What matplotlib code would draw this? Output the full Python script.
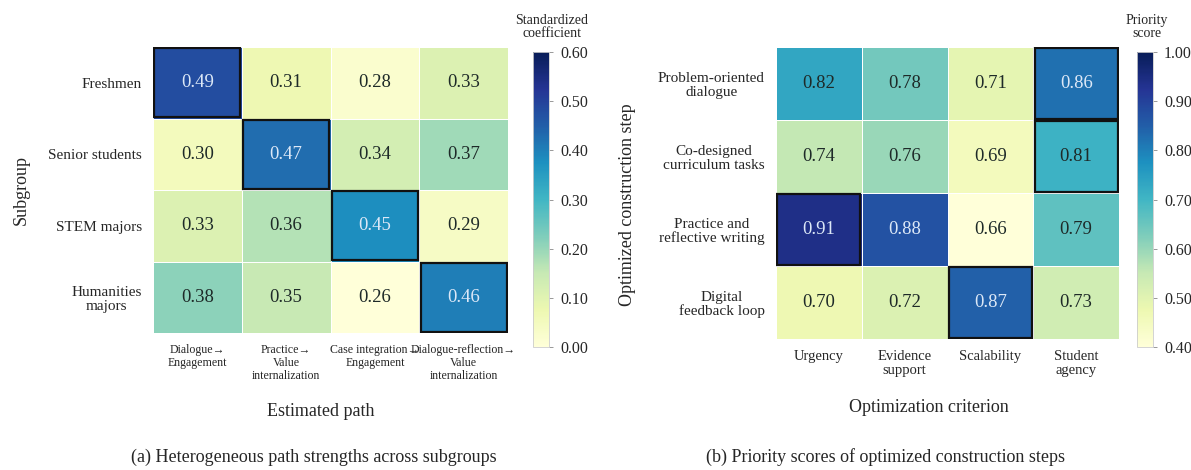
import numpy as np
import matplotlib
matplotlib.use("Agg")
import matplotlib.pyplot as plt
from matplotlib.colors import Normalize, PowerNorm
from matplotlib.cm import ScalarMappable
from matplotlib.patches import Rectangle

plt.rcParams["font.family"] = ["Liberation Serif", "DejaVu Serif"]

# ---- Panel (a): path strengths by subgroup ----
subgroups = ["Freshmen", "Senior students", "STEM majors", "Humanities\nmajors"]
paths = ["Dialogue\u2192\nEngagement", "Practice\u2192\nValue\ninternalization",
         "Case integration\u2192\nEngagement", "Dialogue-reflection\u2192\nValue\ninternalization"]
coef = np.array([
    [0.49, 0.31, 0.28, 0.33],
    [0.30, 0.47, 0.34, 0.37],
    [0.33, 0.36, 0.45, 0.29],
    [0.38, 0.35, 0.26, 0.46],
])

# ---- Panel (b): priority scores of construction steps ----
steps = ["Problem-oriented\ndialogue", "Co-designed\ncurriculum tasks",
         "Practice and\nreflective writing", "Digital\nfeedback loop"]
criteria = ["Urgency", "Evidence\nsupport", "Scalability", "Student\nagency"]
scores = np.array([
    [0.82, 0.78, 0.71, 0.86],
    [0.74, 0.76, 0.69, 0.81],
    [0.91, 0.88, 0.66, 0.79],
    [0.70, 0.72, 0.87, 0.73],
])

CMAP = plt.get_cmap("YlGnBu")
W, H = 1191, 470
fig = plt.figure(figsize=(W / 100, H / 100), dpi=100)
TXT = "#262626"


def px_axes(x0, y0, x1, y1):
    return fig.add_axes([x0 / W, 1 - y1 / H, (x1 - x0) / W, (y1 - y0) / H])


def draw_heatmap(ax, data, cell_norm, xlabels, ylabels, xfs, yfs):
    ax.pcolormesh(np.arange(data.shape[1] + 1), np.arange(data.shape[0] + 1), data,
                  cmap=CMAP, norm=cell_norm, edgecolors="white", linewidth=0.6)
    ax.set_xlim(0, data.shape[1])
    ax.set_ylim(data.shape[0], 0)
    for i in range(data.shape[0]):
        for j in range(data.shape[1]):
            v = data[i, j]
            r, g, b, _ = CMAP(cell_norm(v))
            lum = 0.299 * r + 0.587 * g + 0.114 * b
            col = "#dce8f7" if lum < 0.45 else "#1e2a28"
            ax.text(j + 0.5, i + 0.5, f"{v:.2f}", ha="center", va="center",
                    fontsize=13.5, color=col)
        jmax = int(np.argmax(data[i]))
        ax.add_patch(Rectangle((jmax + 0.015, i + 0.015), 0.97, 0.97, fill=False,
                               edgecolor="#111111", linewidth=1.6, zorder=5))
    ax.set_xticks(np.arange(data.shape[1]) + 0.5)
    ax.set_xticklabels(xlabels, fontsize=xfs, linespacing=1.1)
    ax.set_yticks(np.arange(data.shape[0]) + 0.5)
    ax.set_yticklabels(ylabels, fontsize=yfs, linespacing=1.1,
                       multialignment="center")
    ax.tick_params(length=0, pad=8, colors=TXT)
    for s in ax.spines.values():
        s.set_visible(False)


def draw_cbar(cax, vmin, vmax, ticks, title, cx):
    sm = ScalarMappable(norm=Normalize(vmin, vmax), cmap=CMAP)
    cb = fig.colorbar(sm, cax=cax, ticks=ticks)
    cb.ax.set_yticklabels([f"{t:.2f}" for t in ticks])
    cb.ax.tick_params(labelsize=11.5, length=3, width=0.6, color="#888888",
                      labelcolor=TXT, pad=5)
    cb.outline.set_edgecolor("#cccccc")
    cb.outline.set_linewidth(0.6)
    fig.text(cx / W, 1 - 27 / H, title, ha="center", va="center",
             fontsize=10, linespacing=1.0, color=TXT)


# Panel (a)
ax1 = px_axes(153, 47, 508, 333)
draw_heatmap(ax1, coef, PowerNorm(1.25, vmin=0.26, vmax=0.535), paths, subgroups, 8.6, 11)
cax1 = px_axes(533, 52, 549, 347)
draw_cbar(cax1, 0.0, 0.6, [0.0, 0.1, 0.2, 0.3, 0.4, 0.5, 0.6],
          "Standardized\ncoefficient", 552)
fig.text(321 / W, 1 - 412 / H, "Estimated path", ha="center", va="center",
         fontsize=13, color=TXT)
fig.text(21 / W, 1 - 190 / H, "Subgroup", ha="center", va="center",
         rotation=90, fontsize=13, color=TXT)
fig.text(314 / W, 1 - 457 / H, "(a) Heterogeneous path strengths across subgroups",
         ha="center", va="center", fontsize=13, color=TXT)

# Panel (b)
ax2 = px_axes(776, 47, 1119, 339)
draw_heatmap(ax2, scores, PowerNorm(1.1, vmin=0.66, vmax=0.935), criteria, steps, 10.5, 11)
cax2 = px_axes(1137, 52, 1153, 347)
draw_cbar(cax2, 0.4, 1.0, [0.4, 0.5, 0.6, 0.7, 0.8, 0.9, 1.0],
          "Priority\nscore", 1147)
fig.text(929 / W, 1 - 408 / H, "Optimization criterion", ha="center", va="center",
         fontsize=13, color=TXT)
fig.text(628 / W, 1 - 205 / H, "Optimized construction step", ha="center",
         va="center", rotation=90, fontsize=13, color=TXT)
fig.text(886 / W, 1 - 457 / H, "(b) Priority scores of optimized construction steps",
         ha="center", va="center", fontsize=13, color=TXT)

fig.savefig("out.png", dpi=100, facecolor="white")
